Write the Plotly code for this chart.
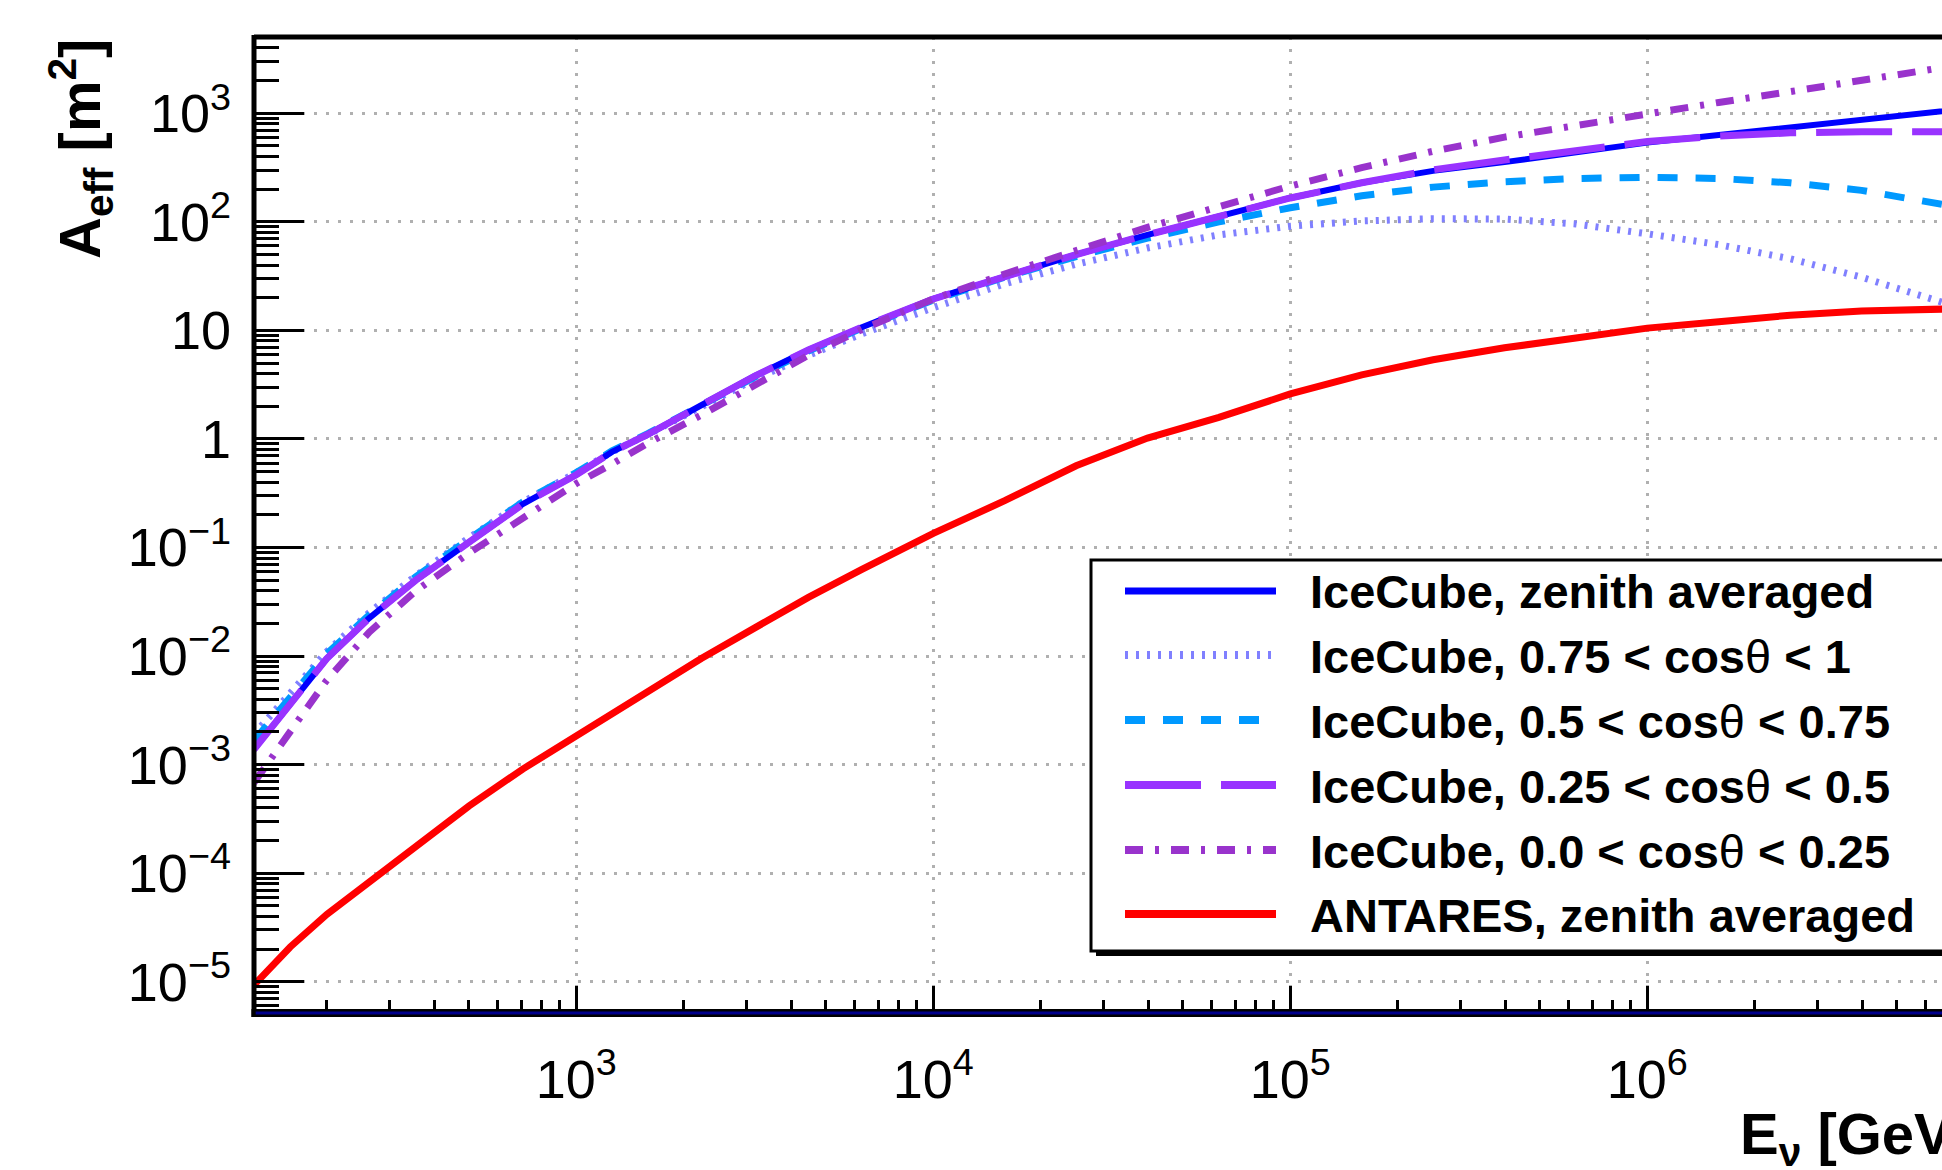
import plotly.graph_objects as go

# ---------------- data ----------------
energy_gev = [125, 158, 200, 263, 355, 501, 708, 1000, 1259, 1585, 2239, 3162, 4467, 6310,
              1.0e4, 1.585e4, 2.512e4, 3.981e4, 6.310e4, 1.0e5, 1.585e5, 2.512e5, 3.981e5, 6.310e5,
              1.0e6, 1.585e6, 2.512e6, 3.981e6, 6.683e6, 1.0e7]

aeff_icecube_avg = [1.38e-3, 3.55e-3, 9.5e-3, 2.24e-2, 5.0e-2, 0.112, 0.251, 0.468, 0.76, 1.10,
                    2.04, 3.8, 6.6, 10.7, 19.5, 31.6, 50, 76, 112, 166,
                    229, 295, 355, 437, 537, 631, 741, 871, 1070, 1200]

aeff_icecube_075_1 = [1.9e-3, 4.57e-3, 1.1e-2, 2.51e-2, 5.5e-2, 0.123, 0.263, 0.49, 0.76, 1.10,
                      2.0, 3.55, 5.9, 9.3, 16.2, 26.9, 40.7, 57.5, 75.9, 91.2,
                      102, 107, 106, 95.5, 77.6, 61.7, 45.7, 30.9, 18.2, 11.2]

aeff_icecube_05_075 = [1.66e-3, 4.17e-3, 1.05e-2, 2.4e-2, 5.37e-2, 0.12, 0.263, 0.49, 0.776, 1.12,
                       2.04, 3.72, 6.46, 10.5, 19.1, 30.9, 47.9, 70.8, 100, 135,
                       174, 209, 234, 251, 257, 251, 229, 195, 145, 112]

aeff_icecube_025_05 = [1.38e-3, 3.55e-3, 9.5e-3, 2.24e-2, 5.0e-2, 0.112, 0.251, 0.468, 0.76, 1.10,
                       2.04, 3.8, 6.6, 10.7, 19.5, 31.6, 50, 76, 112, 166,
                       229, 302, 372, 457, 550, 617, 661, 676, 676, 676]

aeff_icecube_0_025 = [6.8e-4, 2.0e-3, 6.0e-3, 1.66e-2, 3.98e-2, 8.9e-2, 0.186, 0.389, 0.589, 0.912,
                      1.66, 3.16, 5.9, 10.2, 19.5, 33.1, 55, 89, 138, 214,
                      316, 447, 603, 776, 1000, 1259, 1585, 2042, 2630, 3162]

aeff_antares_avg = [9.3e-6, 2.09e-5, 4.17e-5, 8.3e-5, 1.70e-4, 4.17e-4, 9.1e-4, 1.86e-3, 2.95e-3, 4.68e-3,
                    9.5e-3, 1.82e-2, 3.47e-2, 6.3e-2, 0.135, 0.27, 0.566, 1.02, 1.58, 2.6,
                    3.89, 5.37, 6.92, 8.51, 10.5, 12.0, 13.8, 15.1, 15.8, 16.2]

THETA = "<span style='font-weight:normal'>\u03b8</span>"
series_names = ["IceCube, zenith averaged",
                "IceCube, 0.75 &lt; cos" + THETA + " &lt; 1",
                "IceCube, 0.5 &lt; cos" + THETA + " &lt; 0.75",
                "IceCube, 0.25 &lt; cos" + THETA + " &lt; 0.5",
                "IceCube, 0.0 &lt; cos" + THETA + " &lt; 0.25",
                "ANTARES, zenith averaged"]
series_values = [aeff_icecube_avg, aeff_icecube_075_1, aeff_icecube_05_075,
                 aeff_icecube_025_05, aeff_icecube_0_025, aeff_antares_avg]

y_tick_vals = [1e-5, 1e-4, 1e-3, 1e-2, 1e-1, 1, 10, 1e2, 1e3]
y_tick_text = ["10<sup>\u22125</sup>", "10<sup>\u22124</sup>", "10<sup>\u22123</sup>",
               "10<sup>\u22122</sup>", "10<sup>\u22121</sup>", "1", "10",
               "10<sup>2</sup>", "10<sup>3</sup>"]
x_tick_vals = [1e3, 1e4, 1e5, 1e6, 1e7]
x_tick_text = ["10<sup>3</sup>", "10<sup>4</sup>", "10<sup>5</sup>", "10<sup>6</sup>", "10<sup>7</sup>"]

# ---------------- styles ----------------
colors = ["#0000ff", "#8080ff", "#0099ff", "#9933ff", "#9933cc", "#ff0000"]
dashes = ["solid", "3px,8px", "20px,18px", "76px,20px", "18px,12px,4px,12px", "solid"]
widths = [6, 7, 7, 7, 7, 7]
draw_order = [5, 1, 2, 0, 3, 4]

W, H = 1942, 1170
ML, MR, MT, MB = 254, 0, 37, 157
PW, PH = W - ML - MR, H - MT - MB


def px_x(px):
    return (px - ML) / PW


def px_y(py):
    return (H - MB - py) / PH


fig = go.Figure()
for i in draw_order:
    fig.add_trace(go.Scatter(x=energy_gev, y=series_values[i], mode="lines",
                             name=series_names[i], showlegend=False,
                             line=dict(color=colors[i], width=widths[i], dash=dashes[i])))

minor_y = [m * 10.0 ** k for k in range(-6, 4) for m in range(2, 10)]
minor_x = [m * 10.0 ** k for k in range(2, 7) for m in range(2, 10)]

tick_font = dict(family="Liberation Sans Narrow, Liberation Sans, Arial", size=54, color="black")

fig.update_xaxes(type="log", range=[2.0972, 6.8254], showline=False, zeroline=False,
                 tickmode="array", tickvals=x_tick_vals, ticktext=x_tick_text,
                 ticks="inside", ticklen=27, tickwidth=3, tickcolor="black",
                 tickfont=tick_font, ticklabelstandoff=30,
                 showgrid=True, gridcolor="#b0b0b0", gridwidth=2.5, griddash="3px,9px",
                 minor=dict(tickmode="array", tickvals=minor_x, ticks="inside", ticklen=13,
                            tickwidth=3, tickcolor="black", showgrid=False))
fig.update_yaxes(type="log", range=[-5.288, 3.703], showline=False, zeroline=False,
                 tickmode="array", tickvals=y_tick_vals, ticktext=y_tick_text,
                 ticks="inside", ticklen=50, tickwidth=3, tickcolor="black",
                 tickfont=tick_font, ticklabelstandoff=22,
                 showgrid=True, gridcolor="#b0b0b0", gridwidth=2.5, griddash="3px,9px",
                 minor=dict(tickmode="array", tickvals=minor_y, ticks="inside", ticklen=25,
                            tickwidth=3, tickcolor="black", showgrid=False))

shapes = []
# frame
shapes.append(dict(type="line", xref="paper", yref="paper", x0=0, x1=1.02, y0=1, y1=1,
                   line=dict(color="black", width=5), layer="above"))
shapes.append(dict(type="line", xref="paper", yref="paper", x0=0, x1=0, y0=-0.004, y1=1.002,
                   line=dict(color="black", width=5), layer="above"))
shapes.append(dict(type="line", xref="paper", yref="paper", x0=-0.0015, x1=1.02, y0=0, y1=0,
                   line=dict(color="black", width=8), layer="above"))
shapes.append(dict(type="line", xref="paper", yref="paper", x0=0.001, x1=1.02, y0=0, y1=0,
                   line=dict(color="#00008c", width=3), layer="above"))

# legend box (ROOT style, running off the right edge)
box_l, box_t, box_b, box_r = 1091, 560, 951, 2100
shapes.append(dict(type="rect", xref="paper", yref="paper",
                   x0=px_x(box_l + 5), x1=px_x(box_r + 5), y0=px_y(box_b + 5), y1=px_y(box_t + 5),
                   fillcolor="black", line=dict(width=0), layer="above"))
shapes.append(dict(type="rect", xref="paper", yref="paper",
                   x0=px_x(box_l), x1=px_x(box_r), y0=px_y(box_b), y1=px_y(box_t),
                   fillcolor="white", line=dict(color="black", width=3), layer="above"))

row_y = [591, 655, 720, 785, 850, 914]
annotations = []
for i, ry in enumerate(row_y):
    shapes.append(dict(type="line", xref="paper", yref="paper",
                       x0=px_x(1125), x1=px_x(1276), y0=px_y(ry), y1=px_y(ry),
                       line=dict(color=colors[i], width=widths[i] + 1, dash=dashes[i]), layer="above"))
    annotations.append(dict(text=series_names[i], xref="paper", yref="paper",
                            x=px_x(1308), y=px_y(ry + 1), xanchor="left", yanchor="middle",
                            showarrow=False,
                            font=dict(family="Liberation Sans, Arial", size=47, color="black",
                                      weight="bold")))

title_font = dict(family="Liberation Sans, Arial", size=58, color="black", weight="bold")
annotations.append(dict(text="A<sub>eff</sub> [m<sup>2</sup>]", textangle=-90,
                        xref="paper", yref="paper", x=px_x(80), y=px_y(37),
                        xanchor="center", yanchor="top", showarrow=False, font=title_font))
annotations.append(dict(text="E<sub>\u03bd</sub> [GeV]", xref="paper", yref="paper",
                        x=px_x(1738), y=px_y(1138), xanchor="left", yanchor="middle",
                        showarrow=False, font=title_font))

fig.update_layout(width=W, height=H, margin=dict(l=ML, r=MR, t=MT, b=MB),
                  paper_bgcolor="white", plot_bgcolor="white",
                  shapes=shapes, annotations=annotations, showlegend=False)

fig.write_html("out.html")
